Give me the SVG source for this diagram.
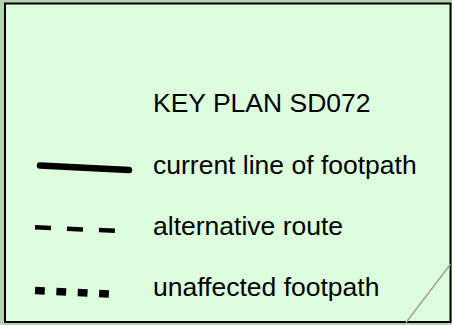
<svg xmlns="http://www.w3.org/2000/svg" width="452" height="325" viewBox="0 0 452 325">
<style>
.t{font-family:"Liberation Sans",Arial,sans-serif;font-size:26.5px;fill:#000}
.k{fill:none;stroke:#000}
</style>
<rect x="0" y="0" width="452" height="325" fill="#b4d4b4"/>
<rect x="5" y="3.5" width="445.5" height="318.5" fill="#ddfedd" stroke="#000" stroke-width="2"/>
<line x1="406" y1="322.5" x2="450.5" y2="264.3" stroke="#a0a0a0" stroke-width="1.5"/>
<g id="title"><text class="t" x="153" y="111.5">KEY PLAN SD072</text></g>
<g id="legend-current">
<line class="k" x1="40" y1="165.5" x2="129" y2="170" stroke-width="6.5" stroke-linecap="round"/>
<text class="t" x="153" y="173.5">current line of footpath</text>
</g>
<g id="legend-alternative">
<line class="k" x1="35" y1="227.3" x2="115.3" y2="230.8" stroke-width="4.5" stroke-dasharray="16 16"/>
<text class="t" x="153" y="235">alternative route</text>
</g>
<g id="legend-unaffected">
<line class="k" x1="35" y1="290.5" x2="110" y2="294" stroke-width="7.5" stroke-dasharray="9.8 11.6"/>
<text class="t" x="153" y="296">unaffected footpath</text>
</g>
</svg>
